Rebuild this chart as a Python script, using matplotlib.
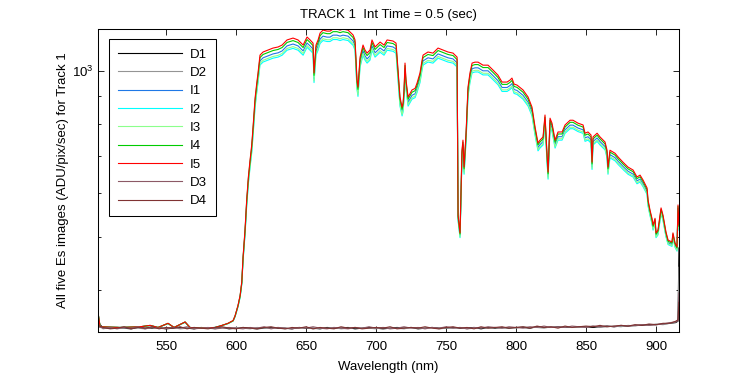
import numpy as np
import matplotlib
matplotlib.use('Agg')
import matplotlib.pyplot as plt
from matplotlib.ticker import MultipleLocator, LogLocator, NullFormatter

plt.rcParams['font.family'] = ['Liberation Sans', 'DejaVu Sans']
plt.rcParams['mathtext.default'] = 'regular'

# I5 (red, top curve)
i5_wl = [501.4, 502.9, 517.1, 531.4, 538.6, 544.3, 551.4, 555.7, 563.6, 567.1,
         574.3, 585.0, 590.0, 594.3, 597.9, 599.3, 601.4, 602.9, 604.1, 605.0,
         606.4, 607.6, 608.8, 610.0, 611.2, 612.1, 613.6, 614.8, 615.7, 617.1,
         619.3, 622.9, 626.4, 630.0, 632.9, 636.4, 640.7, 644.3, 647.9, 650.7,
         652.9, 655.0, 655.7, 657.1, 658.6, 660.0, 662.1, 665.0, 667.1, 669.3,
         672.1, 674.3, 676.4, 680.0, 683.6, 685.0, 685.7, 686.4, 687.1, 688.6,
         690.7, 692.1, 693.6, 695.7, 697.1, 699.3, 702.9, 705.7, 707.9, 712.1,
         714.3, 715.7, 717.1, 718.6, 719.3, 720.0, 720.7, 721.4, 722.9, 725.7,
         727.9, 729.3, 731.4, 732.9, 733.6, 737.1, 740.7, 744.3, 747.9, 751.4,
         755.0, 757.9, 758.6, 760.0, 761.4, 762.1, 762.9, 764.3, 765.7, 767.1,
         768.6, 770.7, 772.9, 776.4, 780.0, 783.6, 787.1, 790.0, 793.6, 795.7,
         797.1, 798.6, 800.7, 805.0, 808.6, 811.4, 813.6, 815.7, 817.1, 819.3,
         820.7, 822.1, 822.9, 824.3, 825.7, 827.9, 830.0, 832.9, 835.0, 838.6,
         840.7, 844.3, 847.9, 849.3, 851.4, 853.6, 854.3, 855.0, 857.9, 860.0,
         863.6, 865.0, 865.7, 867.1, 870.7, 872.9, 876.4, 880.0, 883.6, 886.4,
         888.6, 890.7, 893.6, 894.3, 895.7, 897.1, 897.9, 899.3, 900.0, 901.4,
         903.6, 905.0, 907.1, 908.6, 911.4, 912.1, 913.6, 915.0, 915.7, 916.4]
i5_val = [364, 343, 342, 343, 345, 342, 348, 342, 350, 342,
          341, 342, 345, 348, 352, 359, 375, 391, 414, 459,
          514, 583, 642, 689, 734, 788, 893, 951, 992, 1069,
          1083, 1092, 1101, 1106, 1115, 1139, 1148, 1139, 1115, 1153,
          1139, 1124, 992, 1115, 1139, 1172, 1187, 1182, 1182, 1192,
          1192, 1187, 1192, 1187, 1163, 1139, 1047, 963, 935, 1060,
          1115, 1092, 1078, 1092, 1139, 1106, 1129, 1115, 1139, 1134,
          1124, 1004, 897, 860, 875, 924, 1034, 963, 897, 924,
          930, 951, 992, 1047, 1069, 1083, 1078, 1101, 1092, 1083,
          1078, 1060, 547, 508, 718, 749, 669, 771, 935, 992,
          1034, 1038, 1038, 1025, 1025, 1004, 983, 955, 955, 963,
          971, 947, 943, 924, 897, 860, 791, 740, 749, 759,
          832, 709, 655, 821, 804, 749, 775, 775, 798, 814,
          814, 804, 798, 771, 775, 765, 683, 759, 771, 759,
          743, 718, 669, 718, 709, 698, 683, 669, 661, 642,
          647, 634, 613, 583, 559, 540, 525, 540, 508, 514,
          564, 547, 510, 493, 489, 508, 487, 479, 571, 525]

# the other four lit spectra sit a little lower: fraction of the I5 signal above dark
illum_names = ['I1', 'I2', 'I3', 'I4', 'I5']
illum_level = [0.965, 0.94, 0.95, 0.985, 1.0]
dark_level = 341

# dark frames
dark_wl = [501.4] + list(range(505, 911, 5)) + [914, 915.7, 916.4]
d1 = [350,
      341, 341, 342, 341, 340, 342, 341, 341, 342, 340,
      341, 342, 341, 340, 342, 341, 341, 342, 340, 341,
      342, 341, 340, 341, 342, 341, 341, 340, 342, 341,
      341, 340, 342, 341, 341, 342, 340, 341, 342, 341,
      340, 341, 342, 341, 342, 340, 341, 342, 341, 341,
      342, 341, 341, 342, 340, 342, 341, 342, 341, 342,
      342, 341, 343, 342, 342, 343, 342, 342, 343, 343,
      342, 343, 344, 343, 344, 344, 345, 345, 346, 346,
      347, 348,
      349, 351, 477]
d2 = [348,
      340, 342, 341, 341, 342, 341, 340, 342, 341, 341,
      342, 340, 341, 342, 341, 341, 340, 342, 341, 342,
      341, 340, 342, 341, 341, 342, 340, 341, 341, 342,
      340, 341, 341, 342, 340, 341, 342, 341, 341, 340,
      342, 341, 341, 340, 342, 341, 341, 342, 340, 341,
      341, 342, 340, 341, 342, 341, 342, 341, 342, 341,
      343, 342, 342, 341, 343, 342, 343, 342, 342, 343,
      344, 342, 343, 344, 343, 345, 344, 346, 345, 347,
      346, 348,
      350, 352, 440]
d3 = [343,
      341, 342, 340, 342, 341, 343, 340, 342, 341, 340,
      342, 341, 343, 340, 341, 342, 340, 341, 342, 341,
      340, 342, 341, 343, 340, 342, 341, 340, 342, 341,
      343, 341, 340, 342, 341, 340, 342, 341, 343, 341,
      342, 340, 341, 343, 341, 342, 340, 342, 341, 343,
      341, 342, 340, 342, 341, 343, 342, 341, 343, 342,
      341, 343, 342, 344, 342, 343, 342, 344, 343, 342,
      344, 343, 344, 343, 345, 344, 345, 346, 345, 346,
      347, 349,
      350, 352, 395]
d4 = [345,
      342, 340, 341, 343, 340, 342, 341, 343, 340, 342,
      341, 343, 340, 342, 341, 340, 342, 343, 341, 340,
      342, 341, 340, 342, 343, 341, 340, 342, 341, 343,
      340, 342, 341, 340, 343, 341, 342, 340, 341, 342,
      341, 343, 340, 341, 342, 341, 343, 341, 340, 342,
      343, 341, 342, 340, 343, 341, 342, 343, 341, 342,
      343, 341, 344, 342, 343, 341, 344, 342, 343, 344,
      343, 345, 343, 344, 345, 344, 346, 345, 347, 346,
      348, 348,
      351, 353, 380]

colors = {'D1': 'k', 'D2': (0.58, 0.58, 0.58), 'I1': (0.12, 0.47, 0.9),
          'I2': (0.0, 1.0, 1.0), 'I3': (0.55, 1.0, 0.55), 'I4': (0.0, 0.8, 0.0),
          'I5': (1.0, 0.0, 0.0), 'D3': (0.55, 0.35, 0.4), 'D4': (0.5, 0.2, 0.2)}

fig = plt.figure(figsize=(7.5, 3.75), dpi=100)
ax = fig.add_axes([0.1307, 0.1155, 0.7746, 0.808])
lw = 0.8

ax.plot(dark_wl, d1, color=colors['D1'], lw=lw, label='D1')
ax.plot(dark_wl, d2, color=colors['D2'], lw=lw, label='D2')
i5 = np.array(i5_val, dtype=float)
for name, lev in zip(illum_names, illum_level):
    vals = dark_level + (i5 - dark_level) * lev
    ax.plot(i5_wl, vals, color=colors[name], lw=lw, label=name)
ax.plot(dark_wl, d3, color=colors['D3'], lw=lw, label='D3')
ax.plot(dark_wl, d4, color=colors['D4'], lw=lw, label='D4')

ax.set_yscale('log')
ax.set_xlim(501.4, 916.4)
ax.set_ylim(336, 1194)
ax.xaxis.set_major_locator(MultipleLocator(50))
ax.yaxis.set_major_locator(LogLocator(base=10))
ax.yaxis.set_minor_locator(LogLocator(base=10, subs=np.arange(2, 10)))
ax.yaxis.set_minor_formatter(NullFormatter())

fs = 9.5
ax.tick_params(which='both', direction='in', top=True, right=True, labelsize=fs,
               width=0.6)
ax.tick_params(which='major', length=4)
ax.tick_params(which='minor', length=2.2)
ax.tick_params(axis='x', pad=6.5)
for s in ax.spines.values():
    s.set_linewidth(0.75)

ax.set_xlabel('Wavelength (nm)', fontsize=fs, labelpad=6)
ax.set_ylabel('All five Es images (ADU/pix/sec) for Track 1', fontsize=fs,
              labelpad=2)
ax.set_title('TRACK 1  Int Time = 0.5 (sec)', fontsize=fs, pad=8)

leg = ax.legend(loc='upper left', fontsize=fs, handlelength=4.9,
                labelspacing=0.46, borderaxespad=0.8, borderpad=0.7,
                handletextpad=0.55, fancybox=False, framealpha=1,
                edgecolor='k')
leg.get_frame().set_linewidth(0.75)

fig.savefig('out.png', dpi=100)
